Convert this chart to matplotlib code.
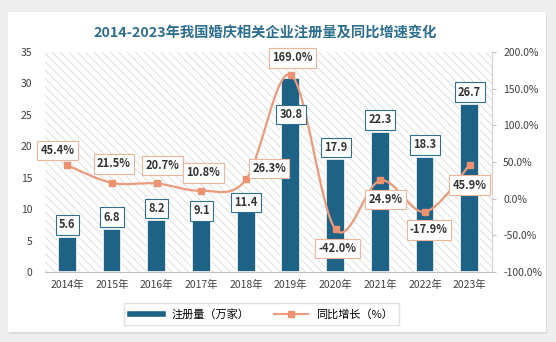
import matplotlib
matplotlib.use("Agg")
import matplotlib.pyplot as plt
import numpy as np
from matplotlib.path import Path
from matplotlib.patches import PathPatch, Rectangle
from matplotlib.lines import Line2D

plt.rcParams['font.family'] = ['Noto Sans CJK SC', 'DejaVu Sans']
plt.rcParams['hatch.linewidth'] = 0.6

# 数据
years = ['2014年', '2015年', '2016年', '2017年', '2018年',
         '2019年', '2020年', '2021年', '2022年', '2023年']
registrations = [5.6, 6.8, 8.2, 9.1, 11.4, 30.8, 17.9, 22.3, 18.3, 26.7]
growth = [45.4, 21.5, 20.7, 10.8, 26.3, 169.0, -42.0, 24.9, -17.9, 45.9]

# 标签偏移（像素）
bar_label_dy = [12, 12, 12, 4, -2, -36, 12, 12, 12, 12]
pct_label_off = [(-10, 15), (2, 19), (6, 18), (2, 18), (23, 11),
                 (2, 17), (2, -19), (5, -19), (4, -18), (0, -20)]

bar_color = '#1e6286'
line_color = '#eb9a7b'
px = 0.72  # 像素 -> 磅

fig = plt.figure(figsize=(5.56, 3.42), dpi=100, facecolor='#eeeeee')
fig.patches.append(Rectangle((9 / 556, 1 - 334 / 342), 538 / 556, 321 / 342,
                             transform=fig.transFigure, facecolor='#dcdcdc',
                             edgecolor='none', zorder=-10))
fig.patches.append(Rectangle((8 / 556, 1 - 332 / 342), 538 / 556, 320 / 342,
                             transform=fig.transFigure, facecolor='white',
                             edgecolor='none', zorder=-9))

ax = fig.add_axes([45 / 556, 70 / 342, 447 / 556, 220 / 342])
ax.set_facecolor('none')
ax.add_patch(Rectangle((0, 0), 1, 1, transform=ax.transAxes, facecolor='white',
                       edgecolor='#dadada', hatch='\\\\\\\\', linewidth=0, zorder=0))

x = np.arange(len(years))
ax.bar(x, registrations, width=0.42, color=bar_color, edgecolor='white',
       linewidth=1.2, zorder=2)
ax.set_xlim(-0.5, len(years) - 0.5)
ax.set_ylim(0, 35)
ax.set_yticks(range(0, 36, 5))
ax.set_xticks(x)
ax.set_xticklabels(years)
ax.tick_params(axis='x', length=0, pad=6, labelsize=7.5, colors='#404040')
ax.tick_params(axis='y', length=0, pad=9, labelsize=7.5, colors='#404040')
for s in ['top', 'left', 'right']:
    ax.spines[s].set_visible(False)
ax.spines['bottom'].set_color('#bfbfbf')

ax2 = ax.twinx()
ax2.set_ylim(-100, 200)
ax2.set_yticks(range(-100, 201, 50))
ax2.set_yticklabels([f'{v:.1f}%' for v in range(-100, 201, 50)])
ax2.tick_params(axis='y', length=3, pad=5, labelsize=7.5, labelcolor='#404040',
                color='#bfbfbf')
for s in ['top', 'left', 'bottom']:
    ax2.spines[s].set_visible(False)
ax2.spines['right'].set_color('#d0d0d0')

# 平滑曲线
pts = np.column_stack([x, growth]).astype(float)
n = len(pts)
verts = [pts[0]]
codes = [Path.MOVETO]
for i in range(n - 1):
    p0 = pts[i - 1] if i > 0 else pts[i]
    p3 = pts[i + 2] if i + 2 < n else pts[i + 1]
    verts += [pts[i] + (pts[i + 1] - p0) / 6, pts[i + 1] - (p3 - pts[i]) / 6, pts[i + 1]]
    codes += [Path.CURVE4] * 3
ax2.add_patch(PathPatch(Path(verts, codes), facecolor='none', edgecolor=line_color,
                        linewidth=1.6, zorder=3))
ax2.plot(x, growth, 's', ms=5, color='#ec9270', zorder=4)

for i, v in enumerate(registrations):
    ax2.annotate(f'{v:.1f}', xy=(i, v), xycoords=ax.transData,
                 xytext=(0, bar_label_dy[i] * px), textcoords='offset points',
                 ha='center', va='center', fontsize=8, fontweight='bold',
                 color='#333333', zorder=6,
                 bbox=dict(boxstyle='square,pad=0.3', fc='white', ec='#2e6f8f', lw=0.8))

for i, v in enumerate(growth):
    dx, dy = pct_label_off[i]
    ax2.annotate(f'{v:.1f}%', xy=(i, v), xytext=(dx * px, dy * px),
                 textcoords='offset points', ha='center', va='center',
                 fontsize=8, fontweight='bold', color='#333333', zorder=6,
                 bbox=dict(boxstyle='square,pad=0.3', fc='white', ec='#efb49a', lw=0.8))

fig.text(0.477, 1 - 33 / 342, '2014-2023年我国婚庆相关企业注册量及同比增速变化',
         ha='center', va='center', fontsize=10.3, fontweight='bold', color='#2c6e8f')

handles = [Line2D([], [], color=bar_color, lw=4),
           Line2D([], [], color=line_color, lw=1.5, marker='s', ms=5,
                  markerfacecolor='#ec9270', markeredgecolor='#ec9270')]
fig.legend(handles, ['注册量（万家）', '同比增长（%）'], loc='center',
           bbox_to_anchor=(261.5 / 556, 1 - 314 / 342), ncol=2, frameon=True,
           fancybox=False, edgecolor='#d9d9d9', fontsize=8, handlelength=3,
           columnspacing=2.2, borderpad=0.5)

fig.savefig('out.png', dpi=100, facecolor=fig.get_facecolor())
